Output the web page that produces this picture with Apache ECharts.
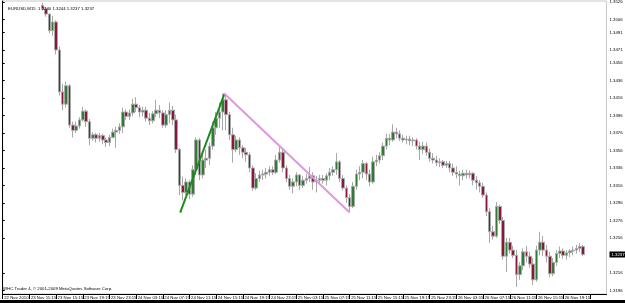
<!DOCTYPE html>
<html><head><meta charset="utf-8">
<script src="https://cdn.jsdelivr.net/npm/echarts@6/dist/echarts.min.js"></script>
<style>html,body{margin:0;padding:0;background:#fff}#c{width:625px;height:303px}</style>
</head><body><div id="c"></div><script>
// ---- data (EURUSD, 30-minute candles) ----
const xLabels = ["22 Nov 2010","23 Nov 11:15","23 Nov 15:15","23 Nov 19:15","23 Nov 23:15","24 Nov 03:15","24 Nov 07:15","24 Nov 11:15","24 Nov 15:15","24 Nov 19:15","24 Nov 23:15","25 Nov 03:15","25 Nov 07:15","25 Nov 11:15","25 Nov 15:15","25 Nov 19:15","25 Nov 23:15","26 Nov 03:15","26 Nov 07:15","26 Nov 11:15","26 Nov 15:15","26 Nov 19:15"];
const barsPerLabel = 8;
const leadingEmpty = 12;   // bars that lie above the visible price range
const trailingEmpty = 7;   // empty slots right of the last bar

const opens = [1.3522,1.3518,1.3512,1.3493,1.3503,1.3471,1.3423,1.3409,1.3430,1.3385,
1.3379,1.3384,1.3391,1.3401,1.3389,1.3370,1.3374,1.3370,1.3373,1.3368,
1.3365,1.3371,1.3377,1.3379,1.3383,1.3400,1.3395,1.3399,1.3409,1.3405,
1.3400,1.3402,1.3393,1.3390,1.3398,1.3402,1.3399,1.3385,1.3397,1.3402,
1.3391,1.3357,1.3316,1.3308,1.3320,1.3306,1.3334,1.3368,1.3328,1.3345,
1.3347,1.3361,1.3382,1.3393,1.3400,1.3414,1.3397,1.3374,1.3357,1.3368,
1.3359,1.3354,1.3351,1.3336,1.3313,1.3324,1.3328,1.3329,1.3331,1.3334,
1.3331,1.3345,1.3354,1.3336,1.3324,1.3315,1.3320,1.3328,1.3316,1.3322,
1.3324,1.3327,1.3320,1.3322,1.3324,1.3322,1.3327,1.3331,1.3334,1.3343,
1.3324,1.3313,1.3302,1.3292,1.3315,1.3329,1.3331,1.3341,1.3329,1.3320,
1.3343,1.3345,1.3350,1.3361,1.3370,1.3368,1.3377,1.3375,1.3370,1.3368,
1.3369,1.3367,1.3368,1.3361,1.3357,1.3361,1.3354,1.3347,1.3345,1.3342,
1.3343,1.3339,1.3341,1.3336,1.3331,1.3329,1.3327,1.3330,1.3328,1.3330,
1.3322,1.3319,1.3315,1.3305,1.3286,1.3263,1.3258,1.3292,1.3276,1.3235,
1.3251,1.3242,1.3236,1.3214,1.3224,1.3240,1.3235,1.3226,1.3208,1.3242,
1.3251,1.3242,1.3235,1.3215,1.3228,1.3238,1.3241,1.3236,1.3239,1.3241,
1.3242,1.3244,1.3246];
const closes = [1.3518,1.3512,1.3493,1.3503,1.3471,1.3423,1.3409,1.3430,1.3385,1.3379,
1.3384,1.3391,1.3401,1.3389,1.3370,1.3374,1.3370,1.3373,1.3368,1.3365,
1.3371,1.3377,1.3379,1.3383,1.3400,1.3395,1.3399,1.3409,1.3405,1.3400,
1.3402,1.3393,1.3390,1.3398,1.3402,1.3399,1.3385,1.3397,1.3402,1.3391,
1.3357,1.3316,1.3308,1.3320,1.3306,1.3334,1.3368,1.3328,1.3345,1.3347,
1.3361,1.3382,1.3393,1.3400,1.3414,1.3397,1.3374,1.3357,1.3368,1.3359,
1.3354,1.3351,1.3336,1.3313,1.3324,1.3328,1.3329,1.3331,1.3334,1.3331,
1.3345,1.3354,1.3336,1.3324,1.3315,1.3320,1.3328,1.3316,1.3322,1.3324,
1.3327,1.3320,1.3322,1.3324,1.3322,1.3327,1.3331,1.3334,1.3343,1.3324,
1.3313,1.3302,1.3292,1.3315,1.3329,1.3331,1.3341,1.3329,1.3320,1.3343,
1.3345,1.3350,1.3361,1.3370,1.3368,1.3377,1.3375,1.3370,1.3368,1.3369,
1.3367,1.3368,1.3361,1.3357,1.3361,1.3354,1.3347,1.3345,1.3342,1.3343,
1.3339,1.3341,1.3336,1.3331,1.3329,1.3327,1.3330,1.3328,1.3330,1.3322,
1.3319,1.3315,1.3305,1.3286,1.3263,1.3258,1.3292,1.3276,1.3235,1.3251,
1.3242,1.3236,1.3214,1.3224,1.3240,1.3235,1.3226,1.3208,1.3242,1.3251,
1.3242,1.3235,1.3215,1.3228,1.3238,1.3241,1.3236,1.3239,1.3241,1.3242,
1.3244,1.3246,1.3237];
const lows = [1.3516,1.3509,1.3490,1.3487,1.3466,1.3419,1.3402,1.3405,1.3382,1.3371,
1.3376,1.3381,1.3389,1.3383,1.3362,1.3367,1.3365,1.3366,1.3363,1.3360,
1.3361,1.3370,1.3359,1.3375,1.3376,1.3391,1.3391,1.3395,1.3400,1.3394,
1.3395,1.3389,1.3385,1.3387,1.3394,1.3393,1.3382,1.3382,1.3387,1.3385,
1.3353,1.3305,1.3299,1.3305,1.3300,1.3303,1.3328,1.3322,1.3324,1.3336,
1.3339,1.3357,1.3374,1.3382,1.3379,1.3379,1.3368,1.3342,1.3354,1.3351,
1.3347,1.3343,1.3331,1.3310,1.3311,1.3320,1.3322,1.3324,1.3327,1.3328,
1.3329,1.3342,1.3331,1.3320,1.3311,1.3307,1.3315,1.3311,1.3313,1.3318,
1.3320,1.3311,1.3308,1.3318,1.3318,1.3316,1.3322,1.3327,1.3328,1.3320,
1.3310,1.3296,1.3286,1.3290,1.3311,1.3322,1.3324,1.3322,1.3315,1.3318,
1.3338,1.3341,1.3345,1.3357,1.3362,1.3366,1.3370,1.3367,1.3365,1.3363,
1.3362,1.3361,1.3357,1.3345,1.3352,1.3350,1.3343,1.3341,1.3338,1.3337,
1.3336,1.3336,1.3331,1.3327,1.3324,1.3316,1.3322,1.3324,1.3324,1.3316,
1.3311,1.3308,1.3302,1.3281,1.3250,1.3254,1.3256,1.3272,1.3231,1.3217,
1.3238,1.3233,1.3200,1.3208,1.3219,1.3228,1.3222,1.3202,1.3206,1.3236,
1.3235,1.3228,1.3211,1.3212,1.3224,1.3233,1.3232,1.3231,1.3234,1.3236,
1.3238,1.3240,1.3235];
const highs = [1.3525,1.3520,1.3513,1.3510,1.3505,1.3475,1.3432,1.3435,1.3432,1.3389,
1.3389,1.3394,1.3406,1.3403,1.3392,1.3377,1.3376,1.3376,1.3375,1.3371,
1.3374,1.3381,1.3383,1.3387,1.3405,1.3403,1.3403,1.3415,1.3417,1.3408,
1.3406,1.3406,1.3399,1.3401,1.3414,1.3408,1.3402,1.3402,1.3411,1.3407,
1.3397,1.3359,1.3326,1.3324,1.3322,1.3339,1.3371,1.3370,1.3351,1.3357,
1.3365,1.3389,1.3400,1.3411,1.3421,1.3418,1.3400,1.3382,1.3373,1.3371,
1.3362,1.3359,1.3354,1.3339,1.3330,1.3333,1.3334,1.3336,1.3338,1.3338,
1.3351,1.3360,1.3358,1.3339,1.3328,1.3324,1.3331,1.3329,1.3327,1.3329,
1.3337,1.3331,1.3327,1.3328,1.3328,1.3330,1.3336,1.3338,1.3353,1.3345,
1.3328,1.3316,1.3306,1.3320,1.3334,1.3338,1.3345,1.3343,1.3334,1.3349,
1.3351,1.3354,1.3365,1.3375,1.3375,1.3386,1.3382,1.3379,1.3374,1.3373,
1.3373,1.3371,1.3370,1.3366,1.3366,1.3365,1.3358,1.3353,1.3350,1.3347,
1.3345,1.3344,1.3344,1.3341,1.3338,1.3333,1.3334,1.3334,1.3333,1.3331,
1.3327,1.3322,1.3319,1.3308,1.3290,1.3270,1.3297,1.3294,1.3280,1.3256,
1.3256,1.3247,1.3242,1.3228,1.3244,1.3247,1.3240,1.3233,1.3247,1.3263,
1.3258,1.3248,1.3240,1.3233,1.3242,1.3246,1.3244,1.3242,1.3243,1.3246,
1.3248,1.3250,1.3248];
const yTickLabels = [1.3526,1.3506,1.3491,1.3471,1.3456,1.3436,1.3416,1.3396,1.3376,1.3356,1.3336,1.3316,1.3296,1.3276,1.3256,1.3216,1.3196];
const yMin = 1.31918, yMax = 1.3527;
const titleText = "EURUSD,M15  1.3240 1.3244 1.3237 1.3237";
const footerText = "WHC Trader 4, © 2001-2009 MetaQuotes Software Corp.";
const lastPrice = 1.3237;
// trend lines: [bar index, price]
const greenLine = [[53.2, 1.3285], [66.5, 1.3421]];
const pinkLine = [[66.5, 1.3421], [104.0, 1.3285]];

// ---- build ----
const nCats = leadingEmpty + opens.length + trailingEmpty;
const cats = [];
for (let i = 0; i < nCats; i++) cats.push(String(i));
const candles = [];
for (let i = 0; i < leadingEmpty; i++) candles.push('-');
for (let i = 0; i < opens.length; i++) candles.push([opens[i], closes[i], lows[i], highs[i]]);
for (let i = 0; i < trailingEmpty; i++) candles.push('-');
const yLabelValues = yTickLabels.concat([lastPrice]);

const FS = 4.3;
const FONT = 'Liberation Sans, Arial, sans-serif';
const chart = echarts.init(document.getElementById('c'), null, {renderer: 'canvas'});
chart.setOption({
  backgroundColor: '#ffffff',
  animation: false,
  title: {text: titleText, left: 3, top: 2, textStyle: {fontSize: FS, fontWeight: 'normal', color: '#000', fontFamily: FONT}},
  grid: {left: 2.7, right: 18.5, top: 1, bottom: 9, containLabel: false, outerBoundsMode: 'none',
    show: true, borderColor: '#c8c8c8', borderWidth: 1, backgroundColor: '#fff'},
  xAxis: [{
    type: 'category', data: cats, boundaryGap: false,
    axisLine: {lineStyle: {color: '#000', width: 1}},
    axisTick: {interval: barsPerLabel - 1, length: 5, lineStyle: {color: '#000'}},
    axisLabel: {interval: barsPerLabel - 1, align: 'left', margin: 2, padding: [0,0,0,1.5], fontSize: FS, color: '#000', fontFamily: FONT,
      formatter: (v, i) => xLabels[i / barsPerLabel] || ''},
    splitLine: {show: false}
  }, {
    type: 'value', min: 0, max: nCats - 1, show: false
  }],
  yAxis: {
    type: 'value', position: 'right', min: yMin, max: yMax, scale: true,
    axisLine: {show: true, lineStyle: {color: '#000', width: 1}},
    axisTick: {show: true, length: 2, customValues: yTickLabels, lineStyle: {color: '#000'}},
    axisLabel: {customValues: yLabelValues, margin: 3, fontSize: FS, color: '#000', fontFamily: FONT,
      formatter: v => Math.abs(v - lastPrice) < 1e-7 ? '{box|' + v.toFixed(4) + '}' : v.toFixed(4),
      rich: {box: {backgroundColor: '#000', color: '#fff', fontSize: FS, fontFamily: FONT, padding: [1, 2, 1, 2]}}},
    splitLine: {show: false}
  },
  graphic: [
    {type: 'text', left: 3, top: 287, style: {text: footerText, fontSize: FS, fill: '#000', font: FS + 'px ' + FONT}},
    {type: 'rect', left: 0, top: 300, shape: {width: 625, height: 3}, style: {fill: '#000'}}
  ],
  series: [{
    type: 'candlestick', data: candles, barWidth: 3,
    itemStyle: {color: '#2e7d32', color0: '#8b1838', borderColor: '#a8a8a8', borderColor0: '#a8a8a8', borderWidth: 1}
  }, {
    type: 'line', xAxisIndex: 1, data: greenLine, symbol: 'none', lineStyle: {color: '#1f8a1f', width: 2}, z: 5
  }, {
    type: 'line', xAxisIndex: 1, data: pinkLine, symbol: 'none', lineStyle: {color: '#dd99dd', width: 2}, z: 5
  }]
});
</script></body></html>
